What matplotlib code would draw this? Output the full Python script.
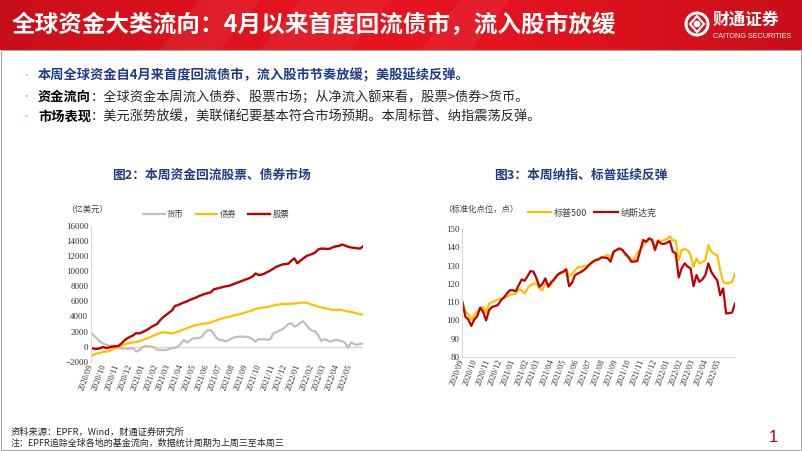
import numpy as np
import pandas as pd
import matplotlib
matplotlib.use('Agg')
import matplotlib.pyplot as plt
import matplotlib.dates as mdates
from matplotlib.patches import Rectangle, Circle, Polygon

plt.rcParams['font.family'] = ['Noto Sans CJK SC', 'DejaVu Sans']

W, H = 802, 451

# fig 2: cumulative weekly fund flows (100m USD)
flow_dates = pd.date_range('2020-09-02', periods=92, freq='7D')
money = [1800, 1400, 1000, 600, 400, 250, 100, 150, 100, -200,
         -250, -200, -300, -250, -200, -650, -500, -100, 100, 50,
         0, -100, -400, -450, -450, -450, -300, -200, -150, 0,
         400, 900, 550, 800, 1100, 1100, 1150, 1300, 1900, 2150,
         2200, 1700, 1100, 900, 850, 700, 850, 1100, 1250, 1300,
         1350, 1300, 1300, 1200, 1000, 650, 1000, 950, 1000, 900,
         1000, 1800, 1900, 2150, 2300, 2600, 3000, 3100, 2650, 2800,
         3200, 3350, 2900, 2350, 2100, 2000, 1500, 750, 1000, 850,
         650, 800, 900, 800, 750, 500, -150, 550, 350, 200,
         400, 350]
bonds = [-1300, -1000, -900, -800, -700, -650, -600, -400, -200, -50,
         100, 250, 400, 500, 550, 600, 700, 850, 1000, 1150,
         1300, 1500, 1650, 1800, 1900, 1900, 1800, 1750, 1850, 2000,
         2150, 2300, 2450, 2600, 2750, 2850, 2950, 3000, 3050, 3100,
         3200, 3350, 3500, 3650, 3750, 3850, 3950, 4050, 4150, 4250,
         4350, 4450, 4600, 4700, 4850, 5000, 5100, 5150, 5200, 5250,
         5350, 5450, 5550, 5600, 5650, 5650, 5650, 5700, 5700, 5750,
         5800, 5850, 5800, 5700, 5550, 5450, 5300, 5200, 5100, 5050,
         4950, 4850, 4850, 4900, 4850, 4750, 4650, 4600, 4500, 4400,
         4300, 4250]
stocks = [-200, -300, -300, -200, -50, -200, -100, 0, 50, 80,
          400, 800, 1100, 1300, 1500, 1800, 1750, 1900, 2100, 2300,
          2600, 2800, 3000, 3500, 3900, 4200, 4500, 4800, 5400, 5500,
          5700, 5850, 6000, 6200, 6350, 6500, 6700, 6850, 7000, 7100,
          7200, 7600, 7700, 7800, 7900, 8000, 8050, 8200, 8350, 8500,
          8650, 8800, 8950, 9100, 9300, 9700, 9500, 9550, 9700, 9900,
          10100, 10350, 10600, 10750, 10900, 10950, 11000, 11400, 11700, 11050,
          11400, 11700, 12000, 12150, 12300, 12500, 12900, 13000, 13000, 12950,
          13000, 13200, 13300, 13350, 13550, 13400, 13250, 13150, 13100, 13050,
          13000, 13300]

# fig 3: normalised index levels
idx_dates = pd.date_range('2020-09-02', periods=93, freq='7D')
spx = [110, 104.7, 103.4, 100.5, 102.8, 105, 106.5, 107.4, 104.1, 109.2,
       110, 110.7, 111.5, 112, 112.5, 113, 113.8, 114.2, 114.7, 117,
       116.5, 114.7, 117.5, 119.3, 120, 120.2, 117.5, 116.5, 120.2, 120,
       119.3, 123, 124.5, 125.3, 126.5, 128.4, 123.9, 125.5, 127.5, 129,
       129.3, 129.7, 130, 130.3, 132.6, 133, 133.9, 134.5, 135, 135.7,
       134.5, 137, 138.8, 138.8, 138.5, 135.7, 134.5, 133.5, 133, 137,
       138.5, 140.7, 143, 144.3, 144.3, 139.9, 143.9, 143.5, 143.9, 144.5,
       146.1, 143.9, 143.6, 133, 138.5, 139, 138.5, 135.7, 129.3, 133.9,
       131.2, 132, 133, 141.2, 137.6, 136.3, 135.7, 127.5, 121, 120.2,
       120.5, 121, 125.7]
ndx = [110, 102, 100.5, 97, 100.5, 102.3, 107, 104.7, 100, 105.6,
       107.4, 107.8, 108.5, 111, 112.5, 114.7, 116.5, 116.5, 116, 119.3,
       122.4, 121.7, 124.2, 127, 126.6, 123, 118.4, 120, 123, 118.4,
       121, 122.4, 124.8, 126, 126.6, 127.9, 118.7, 120.6, 124.8, 125.7,
       126.5, 127.5, 129, 130.8, 132, 133, 133.4, 134.5, 134.3, 134.1,
       132.1, 137.6, 138.5, 139.4, 138.5, 136.5, 134.8, 132.1, 132.2, 132.4,
       138.1, 144, 143, 144.9, 144, 138.5, 143.4, 142.1, 141.8, 142.5,
       143.4, 137.6, 136.7, 123.5, 128.4, 131.2, 129.5, 128.4, 118.7, 124.8,
       121.1, 122.5, 124.8, 131.2, 126.6, 124, 122, 113.8, 117.5, 103.8,
       104, 104.3, 109.2]

month_ticks = pd.date_range('2020-09-01', '2022-05-01', freq='MS')

RED = '#C00000'
YEL = '#FFC000'
GRY = '#BFBFBF'
AXC = '#D9D9D9'
BLUE = '#1F3C88'
SERIF = 'Liberation Serif'


def fx(x):
    return x / W


def fy(y):
    return 1 - y / H


def pix_axes(fig, x0, y0, x1, y1):
    return fig.add_axes([fx(x0), fy(y1), (x1 - x0) / W, (y1 - y0) / H])


def style_axes(ax):
    for s in ['top', 'right']:
        ax.spines[s].set_visible(False)
    ax.spines['left'].set_color(AXC)
    ax.spines['bottom'].set_color(AXC)
    ax.tick_params(axis='y', length=0, labelsize=6.5, pad=2)
    ax.tick_params(axis='x', length=0, labelsize=6, pad=2)
    ax.set_xticks(month_ticks)
    ax.xaxis.set_major_formatter(mdates.DateFormatter('%Y/%m'))
    for lab in ax.get_xticklabels() + ax.get_yticklabels():
        lab.set_fontfamily(SERIF)
        lab.set_color('#333333')
    for lab in ax.get_xticklabels():
        lab.set_rotation(70)
        lab.set_ha('right')
        lab.set_va('center')
        lab.set_rotation_mode('anchor')
    ax.patch.set_alpha(0)


def main():
    fig = plt.figure(figsize=(W / 100, H / 100), dpi=100)

    # header banner
    hax = fig.add_axes([0, fy(50), 1, 50 / H])
    hax.set_xlim(0, W)
    hax.set_ylim(50, 0)
    hax.axis('off')
    grad = np.linspace(0, 1, 400)
    c0 = np.array([0.78, 0.06, 0.10])
    c1 = np.array([0.90, 0.08, 0.12])
    img = np.array([c0 + (c1 - c0) * np.sin(np.pi * g) for g in grad])[None, :, :]
    hax.imshow(img, extent=[0, W, 50, 0], aspect='auto')
    for x0, w in [(160, 60), (260, 90), (420, 50)]:
        hax.add_patch(Polygon([[x0, 50], [x0 + 40, 0], [x0 + 40 + w, 0], [x0 + w, 50]],
                              closed=True, color='white', alpha=0.05, lw=0))
    hax.text(12, 25, '全球资金大类流向：4月以来首度回流债市，流入股市放缓', color='white',
             fontsize=17, fontweight='bold', va='center', ha='left')
    # logo
    hax.add_patch(Circle((697, 24), 11, fill=False, ec='white', lw=2.2))
    hax.add_patch(Polygon([[697, 16], [704, 24], [697, 32], [690, 24]], closed=True,
                          fill=False, ec='white', lw=1.6))
    hax.add_patch(Circle((697, 24), 2.6, color='white'))
    hax.text(713, 20, '财通证券', color='white', fontsize=12, fontweight='bold',
             va='center', ha='left')
    hax.text(713, 37, 'CAITONG SECURITIES', color='white', fontsize=5.2,
             va='center', ha='left', family='Liberation Sans')

    # bullets
    fig.canvas.draw()
    r = fig.canvas.get_renderer()
    bullets = [
        ('本周全球资金自4月来首度回流债市，流入股市节奏放缓；美股延续反弹。', '', 76),
        ('资金流向', '：全球资金本周流入债券、股票市场；从净流入额来看，股票>债券>货币。', 97),
        ('市场表现', '：美元涨势放缓，美联储纪要基本符合市场预期。本周标普、纳指震荡反弹。', 117),
    ]
    for i, (bold, rest, y) in enumerate(bullets):
        fig.text(fx(26), fy(y), '•', color='#F4B183', fontsize=8, va='center', ha='center')
        t = fig.text(fx(38), fy(y), bold, fontsize=9.5, fontweight='bold',
                     color=BLUE if i == 0 else '#000000', va='center', ha='left')
        if rest:
            bb = t.get_window_extent(renderer=r)
            fig.text(bb.x1 / W, fy(y), rest, fontsize=9.5, color='#262626',
                     va='center', ha='left')

    # chart titles
    fig.text(fx(211), fy(175), '图2：本周资金回流股票、债券市场', fontsize=9.2,
             fontweight='bold', color=BLUE, ha='center', va='center')
    fig.text(fx(581), fy(175), '图3：本周纳指、标普延续反弹', fontsize=9.2,
             fontweight='bold', color=BLUE, ha='center', va='center')

    # left chart
    ax1 = pix_axes(fig, 91, 226, 363, 361.7)
    ax1.plot(flow_dates, money, color=GRY, lw=1.6, label='货币')
    ax1.plot(flow_dates, bonds, color=YEL, lw=1.6, label='债券')
    ax1.plot(flow_dates, stocks, color=RED, lw=1.7, label='股票')
    ax1.axhline(0, color=AXC, lw=1, zorder=0)
    ax1.set_ylim(-2000, 16000)
    ax1.set_yticks(np.arange(-2000, 16001, 2000))
    ax1.set_xlim(flow_dates[0] - pd.Timedelta(days=1), flow_dates[-1])
    style_axes(ax1)
    ax1.spines['bottom'].set_visible(False)
    fig.text(fx(66), fy(209), '（亿美元）', fontsize=6, color='#404040', ha='left', va='center')
    ax1.legend(loc='center', bbox_to_anchor=(fx(216), fy(214)), bbox_transform=fig.transFigure,
               ncol=3, frameon=False, fontsize=6, handlelength=2.6, handletextpad=0.3,
               columnspacing=1.4, labelcolor='#404040')

    # right chart
    ax2 = pix_axes(fig, 462, 229, 735, 357)
    ax2.plot(idx_dates, spx, color=YEL, lw=1.6, label='标普500')
    ax2.plot(idx_dates, ndx, color=RED, lw=1.6, label='纳斯达克')
    ax2.set_ylim(80, 150)
    ax2.set_yticks(np.arange(80, 151, 10))
    ax2.set_xlim(idx_dates[0] - pd.Timedelta(days=1), idx_dates[-1])
    style_axes(ax2)
    fig.text(fx(443), fy(209), '（标准化点位，点）', fontsize=6, color='#404040', ha='left', va='center')
    ax2.legend(loc='center', bbox_to_anchor=(fx(592), fy(213)), bbox_transform=fig.transFigure,
               ncol=2, frameon=False, fontsize=6.5, handlelength=2.6, handletextpad=0.3,
               columnspacing=0.8, labelcolor='#404040')

    # footer
    fig.text(fx(11), fy(432), '资料来源：EPFR，Wind，财通证券研究所', fontsize=6.7,
             color='#262626', ha='left', va='center')
    fig.text(fx(11), fy(443), '注：EPFR追踪全球各地的基金流向，数据统计周期为上周三至本周三',
             fontsize=6.5, color='#262626', ha='left', va='center')
    fig.text(fx(773), fy(437), '1', fontsize=12, color=RED, ha='center', va='center',
             family='Liberation Sans')

    # frame
    fig.patches.append(Rectangle((fx(1), fy(449.5)), 799.5 / W, 399.5 / H, fill=False,
                                 ec='#A6A6A6', lw=0.8, transform=fig.transFigure, figure=fig))

    plt.savefig('out.png', dpi=100)


if __name__ == "__main__":
    main()
